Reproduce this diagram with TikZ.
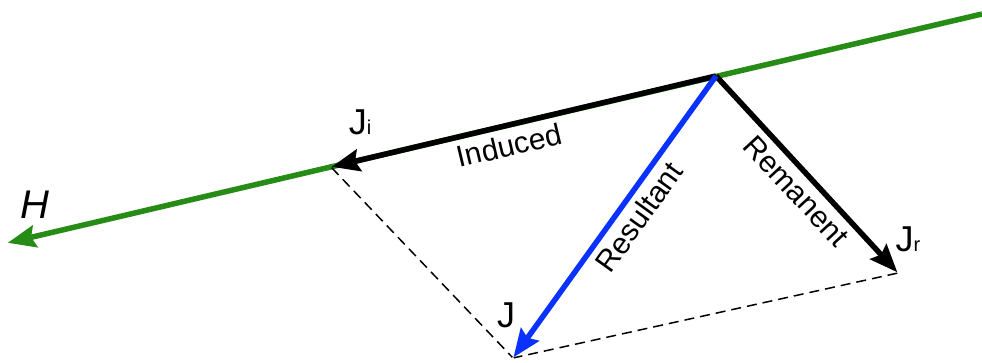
\documentclass[tikz,border=0pt]{standalone}
\usepackage{fontspec}
\setmainfont{Liberation Sans}
\usetikzlibrary{arrows.meta,positioning,calc}

\definecolor{fieldgreen}{RGB}{38,140,22}
\definecolor{resblue}{RGB}{10,50,255}

\begin{document}
\begin{tikzpicture}[
  x=1pt, y=1pt,
  vec/.style={line width=5.5pt, -{Stealth[length=28pt,width=22pt,inset=4pt]}},
  guide/.style={line width=1.5pt, dash pattern=on 10pt off 6pt},
  lbl/.style={font=\fontsize{30}{34}\selectfont, text=black, inner sep=6pt},
  sym/.style={font=\fontsize{36}{40}\selectfont, inner sep=0pt},
]
\useasboundingbox (0,0) rectangle (982,363);

% points of the construction
\coordinate (far) at (982,349);
\coordinate (o) at (716,287);
\node[inner sep=0pt] (hend) at (7,120) {};
\node[inner sep=0pt] (ji) at (331,196) {};
\node[inner sep=0pt] (jr) at (898,90) {};
\node[inner sep=0pt] (j) at (513,5) {};

% field direction
\draw[vec, fieldgreen] (far) -- (hend);

% parallelogram
\draw[guide] (ji) -- (j);
\draw[guide] (jr) -- (j);

% components and sum
\draw[vec] (o) -- node[lbl, sloped, below, pos=0.55] {Induced} (ji);
\draw[vec] (o) -- node[lbl, sloped, below, pos=0.52] {Remanent} (jr);
\draw[vec, resblue] (o) -- node[lbl, sloped, below, pos=0.46] {Resultant} (j);

% symbols
\node[sym, font=\fontsize{40}{44}\selectfont\itshape] (hlbl) at (35,158) {H};
\node[sym] (jilbl) at (360,241) {J{\fontsize{20}{22}\selectfont i}};
\node[sym] (jrlbl) at (908,124) {J{\fontsize{20}{22}\selectfont r}};
\node[sym] (jlbl) at (506,48) {J};

\end{tikzpicture}
\end{document}
